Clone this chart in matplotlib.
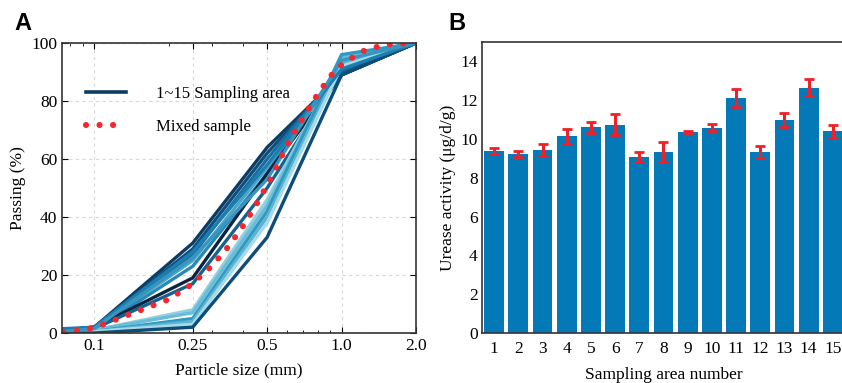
import numpy as np
import matplotlib.pyplot as plt
from matplotlib.ticker import FixedLocator, NullFormatter

plt.rcParams['font.family'] = ['Liberation Serif', 'DejaVu Serif']

# Panel A - particle size distribution
sizes = [0.075, 0.1, 0.25, 0.5, 1.0, 2.0]
areas_passing = [
    [1.0, 2.0, 31, 64, 89, 100],
    [1.0, 2.0, 29, 62, 90, 100],
    [1.0, 1.5, 27, 60, 91, 100],
    [0.5, 1.5, 25, 57, 92, 100],
    [0.5, 1.0, 23, 55, 93, 100],
    [1.0, 2.0, 19, 55, 89, 100],
    [0.5, 1.5, 17, 50, 90, 100],
    [0.5, 1.0, 8, 46, 94, 100],
    [0.0, 1.0, 7, 44, 95, 100],
    [0.0, 0.5, 5, 42, 96, 100],
    [0.0, 0.5, 4, 40, 93, 100],
    [0.0, 0.5, 3, 38, 92, 100],
    [0.0, 0.0, 2, 33, 89, 100],
    [1.5, 2.0, 28, 58, 91, 100],
    [0.5, 1.5, 26, 53, 94, 100],
]
area_colors = ['#0b3c63', '#0d4f7e', '#1b6e9e', '#4aa6c9', '#2a88b6', '#0a2540',
               '#13628f', '#8fd0e2', '#6bbcd6', '#2e9ac2', '#5db3d1', '#a4dbe9',
               '#0e4d7a', '#1a7fb0', '#3795c0']

mix_size = [0.075, 0.1, 0.15, 0.2, 0.25, 0.3, 0.35, 0.4, 0.45, 0.5, 0.6, 0.7,
            0.8, 0.9, 1.0, 1.2, 1.5, 2.0]
mix_passing = [0.2, 1.8, 7.5, 11.6, 17.0, 23.3, 30.0, 37.0, 44.0, 51.0, 64.5,
               74.5, 82.3, 88.5, 92.5, 97.0, 99.5, 100.0]

# Panel B - urease activity
area_no = np.arange(1, 16)
urease = [9.39, 9.22, 9.44, 10.14, 10.6, 10.74, 9.06, 9.34, 10.37, 10.59,
          12.13, 9.34, 10.97, 12.65, 10.4]
urease_err = [0.17, 0.17, 0.3, 0.39, 0.27, 0.53, 0.26, 0.51, 0.06, 0.2,
              0.46, 0.31, 0.36, 0.43, 0.33]

W, H = 842, 383
fig = plt.figure(figsize=(W / 100, H / 100), dpi=100)

# ---- A ----
ax1 = fig.add_axes([62 / W, 1 - 333 / H, (416 - 62) / W, (333 - 43) / H])
for ys, c in zip(areas_passing, area_colors):
    ax1.plot(sizes, ys, color=c, lw=2.4, solid_joinstyle='miter')
ax1.plot([], [], color='#0b3c63', lw=2.6, label='1~15 Sampling area')
ax1.plot(mix_size, mix_passing, color='#f5262e', lw=4.4,
         linestyle=(0, (0.01, 2.2)), dash_capstyle='round', label='Mixed sample')
ax1.set_xscale('log')
ax1.set_xlim(0.074, 2.0)
ax1.set_ylim(0, 100)
ax1.xaxis.set_major_locator(FixedLocator([0.1, 0.25, 0.5, 1.0, 2.0]))
ax1.set_xticklabels(['0.1', '0.25', '0.5', '1.0', '2.0'])
ax1.xaxis.set_minor_formatter(NullFormatter())
ax1.set_yticks([0, 20, 40, 60, 80, 100])
ax1.grid(True, which='major', ls=(0, (3, 3)), color='#d8d8d8', lw=0.8)
ax1.tick_params(which='both', direction='in', top=True, right=True, labelsize=12.5)
ax1.tick_params(which='major', length=4)
ax1.tick_params(which='minor', length=2.5)
ax1.set_xlabel('Particle size (mm)', fontsize=12.5, labelpad=6)
ax1.set_ylabel('Passing (%)', fontsize=12.5, labelpad=4)
for s in ax1.spines.values():
    s.set_color('#333333')
    s.set_linewidth(1.2)
leg = ax1.legend(loc='upper left', bbox_to_anchor=(0.025, 0.905), frameon=False,
                 fontsize=12, handlelength=2.4, handletextpad=1.8, labelspacing=1.05)
fig.text(14 / W, 1 - 24 / H, 'A', fontsize=17, fontweight='bold',
         family='Liberation Sans', va='center')

# ---- B ----
ax2 = fig.add_axes([482 / W, 1 - 333 / H, (845 - 482) / W, (333 - 42) / H])
ax2.bar(area_no, urease, width=0.82, color='#0479b8', zorder=2)
ax2.errorbar(area_no, urease, yerr=urease_err, fmt='none', ecolor='#f02028',
             elinewidth=2.2, capsize=3.5, capthick=2.0, zorder=3)
ax2.set_xlim(0.5, 15.5)
ax2.set_ylim(0, 15)
ax2.set_xticks(area_no)
ax2.set_yticks(range(0, 15, 2))
ax2.tick_params(direction='in', length=0, labelsize=12.5, pad=3)
ax2.tick_params(axis='x', pad=6)
ax2.set_xlabel('Sampling area number', fontsize=12.5, labelpad=7)
ax2.set_ylabel('Urease activity (μg/d/g)', fontsize=12.5, labelpad=3)
for s in ax2.spines.values():
    s.set_color('#333333')
    s.set_linewidth(1.2)
fig.text(448 / W, 1 - 24 / H, 'B', fontsize=17, fontweight='bold',
         family='Liberation Sans', va='center')

fig.savefig('out.png', dpi=100)
